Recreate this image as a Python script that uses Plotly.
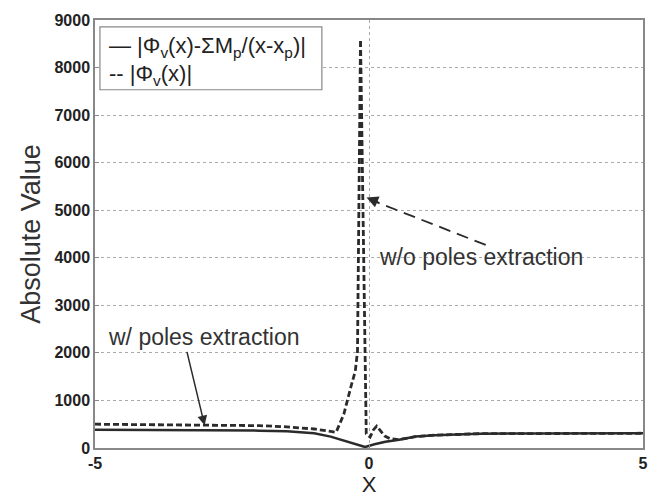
import plotly.graph_objects as go

# Data
x_solid = [-5, -4, -3, -2, -1.5, -1.0, -0.7, -0.4, -0.2, -0.07, 0.1, 0.3, 0.55, 0.85, 1.2, 1.6, 2.0, 3.0, 4.0, 5.0]
y_solid = [385, 380, 375, 365, 350, 310, 240, 140, 70, 20, 80, 130, 175, 240, 270, 290, 300, 305, 310, 310]

x_dash = [-5, -4, -3, -2, -1.5, -1.0, -0.7, -0.6, -0.46, -0.37, -0.32, -0.25, -0.21, -0.155,
          -0.05, 0.02, 0.08, 0.14, 0.29, 0.38, 0.55, 0.85, 1.2, 2.0, 3.0, 4.0, 5.0]
y_dash = [500, 495, 490, 470, 445, 400, 350, 330, 710, 1130, 1330, 1620, 2030, 8590,
          300, 230, 380, 460, 250, 195, 175, 240, 270, 300, 305, 310, 310]

name_solid = "|Φ<sub>v</sub>(x)-ΣM<sub>p</sub>/(x-x<sub>p</sub>)|"
name_dash = "|Φ<sub>v</sub>(x)|"

x_ticks = [-5, 0, 5]
y_ticks = [0, 1000, 2000, 3000, 4000, 5000, 6000, 7000, 8000, 9000]
x_title = "X"
y_title = "Absolute Value"

ink = "#2b2b2b"
font_fam = "Liberation Sans, Arial, sans-serif"

fig = go.Figure()
fig.add_trace(go.Scatter(x=x_solid, y=y_solid, mode="lines", name=name_solid,
                         line=dict(color=ink, width=2.5), showlegend=False))
fig.add_trace(go.Scatter(x=x_dash, y=y_dash, mode="lines", name=name_dash,
                         line=dict(color=ink, width=2.8, dash="6px,3px"), showlegend=False))

# MATLAB-style legend box with text line samples
fig.add_shape(type="rect", xref="paper", yref="paper", x0=0.009, x1=0.414, y0=0.837, y1=0.984,
              line=dict(color="#888", width=1.2), fillcolor="white", layer="above")
fig.add_annotation(xref="paper", yref="paper", x=0.022, y=0.938, xanchor="left", yanchor="middle",
                   text="— " + name_solid, showarrow=False,
                   font=dict(family=font_fam, size=22, color="#222"))
fig.add_annotation(xref="paper", yref="paper", x=0.022, y=0.871, xanchor="left", yanchor="middle",
                   text="-- " + name_dash, showarrow=False,
                   font=dict(family=font_fam, size=22, color="#222"))

# dashed arrow for "w/o poles extraction"
fig.add_shape(type="line", xref="x", yref="y", x0=2.13, y0=4270, x1=0.05, y1=5210,
              line=dict(color=ink, width=1.8, dash="12px,7px"))
fig.add_annotation(x=-0.045, y=5270, ax=14, ay=6, axref="pixel", ayref="pixel",
                   text="", showarrow=True, arrowhead=2, arrowsize=1.3, arrowwidth=1.8,
                   arrowcolor=ink)
fig.add_annotation(x=0.15, y=4025, text="w/o poles extraction", showarrow=False,
                   xanchor="left", yanchor="middle",
                   font=dict(family=font_fam, size=23, color="#333"))

# solid arrow for "w/ poles extraction"
fig.add_annotation(x=-3.0, y=477, ax=-18, ay=-75, axref="pixel", ayref="pixel",
                   text="", showarrow=True, arrowhead=2, arrowsize=1.3, arrowwidth=1.5,
                   arrowcolor=ink)
fig.add_annotation(x=-4.8, y=2330, text="w/ poles extraction", showarrow=False,
                   xanchor="left", yanchor="middle",
                   font=dict(family=font_fam, size=23, color="#333"))

fig.update_layout(
    width=660, height=499,
    margin=dict(l=95, r=14, t=16, b=48),
    paper_bgcolor="white", plot_bgcolor="white",
    font=dict(family=font_fam, color=ink),
    showlegend=False,
)
fig.update_xaxes(range=[-5, 5], tickvals=x_ticks, ticktext=[f"<b>{v}</b>" for v in x_ticks],
                 showline=True, linecolor="#888", linewidth=1.5, mirror=True,
                 ticks="inside", ticklen=4, tickcolor="#888",
                 showgrid=True, gridcolor="#aaa", griddash="dot", gridwidth=1,
                 zeroline=False,
                 tickfont=dict(size=16, color="#222", family=font_fam),
                 title=dict(text=x_title, font=dict(size=22, color="#222"), standoff=0))
fig.update_yaxes(range=[0, 9000], tickvals=y_ticks, ticktext=[f"<b>{v}</b>" for v in y_ticks],
                 showline=True, linecolor="#888", linewidth=1.5, mirror=True,
                 ticks="inside", ticklen=4, tickcolor="#888",
                 showgrid=True, gridcolor="#aaa", griddash="dot", gridwidth=1,
                 zeroline=False,
                 tickfont=dict(size=16, color="#222", family=font_fam),
                 title=dict(text=y_title, font=dict(size=27, color="#333"), standoff=6))

fig.write_html("out.html", config={"displayModeBar": False},
               post_script="document.body.style.margin='0';document.body.style.overflow='hidden';")
